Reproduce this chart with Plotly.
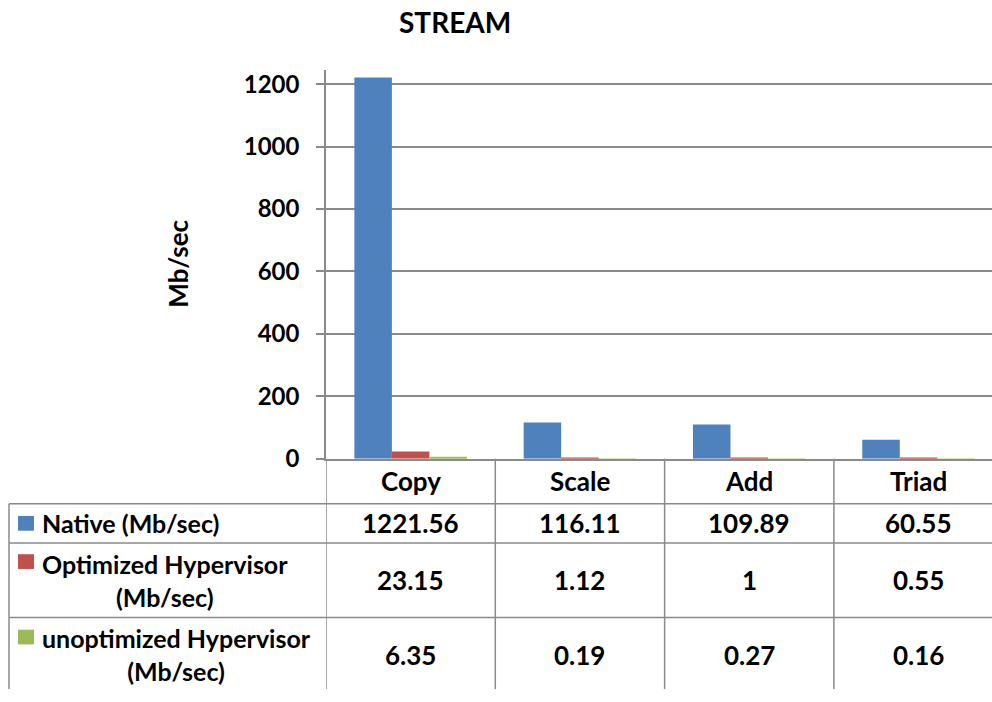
import plotly.graph_objects as go

# STREAM benchmark results
categories = ["Copy", "Scale", "Add", "Triad"]
series_names = [
    "Native (Mb/sec)",
    "Optimized Hypervisor (Mb/sec)",
    "unoptimized Hypervisor (Mb/sec)",
]
series_labels = [
    "Native (Mb/sec)",
    "Optimized Hypervisor<br>(Mb/sec)",
    "unoptimized Hypervisor<br>(Mb/sec)",
]
native = [1221.56, 116.11, 109.89, 60.55]
optimized = [23.15, 1.12, 1, 0.55]
unoptimized = [6.35, 0.19, 0.27, 0.16]
y_ticks = [0, 200, 400, 600, 800, 1000, 1200]

series_values = [native, optimized, unoptimized]
colors = ["#4F81BD", "#C0504D", "#9BBB59"]

W, H = 992, 702
FONT = "Lato"
GRID = "#8a8a8a"


def px_x(x):
    return x / W


def px_y(y):
    return 1 - y / H


fig = go.Figure()
for name, vals, col in zip(series_names, series_values, colors):
    fig.add_trace(go.Bar(x=categories, y=vals, name=name, marker_color=col,
                         marker_line_width=0))

# plot area in pixels
plot_left, plot_bottom, plot_top = 326, 467, 70
cat_w = 169.3
x_max = -0.5 + (W - plot_left) / cat_w

fig.update_layout(
    width=W, height=H,
    margin=dict(l=0, r=0, t=0, b=0),
    paper_bgcolor="white", plot_bgcolor="white",
    showlegend=False,
    barmode="group", bargap=0.335, bargroupgap=0,
    font=dict(family=FONT, size=26, color="black", weight="bold"),
    xaxis=dict(domain=[px_x(plot_left), 1], range=[-0.5, x_max],
               showticklabels=False, ticks="", showgrid=False,
               showline=True, linecolor=GRID, linewidth=1.5, zeroline=False),
    yaxis=dict(domain=[px_y(plot_bottom), px_y(plot_top)], range=[0, 1247],
               tickvals=y_ticks, ticks="outside", ticklen=8, tickcolor=GRID,
               tickwidth=1.5, ticklabelstandoff=12,
               tickfont=dict(family=FONT, size=24, weight="bold"),
               showgrid=True, gridcolor=GRID, gridwidth=1.5,
               showline=True, linecolor=GRID, linewidth=1.5, zeroline=False),
)

annotations = []
shapes = []

# title and y axis label
annotations.append(dict(text="STREAM", x=px_x(455), y=px_y(21), xref="paper", yref="paper",
                        showarrow=False, xanchor="center", yanchor="middle",
                        font=dict(family=FONT, size=28, weight="bold")))
annotations.append(dict(text="Mb/sec", x=px_x(178), y=px_y(268), xref="paper", yref="paper",
                        showarrow=False, textangle=-90, xanchor="center", yanchor="middle",
                        font=dict(family=FONT, size=26, weight="bold")))

# data table grid
row_lines = [513, 553, 629]
table_left = 9
for y in row_lines:
    shapes.append(dict(type="line", xref="paper", yref="paper",
                       x0=px_x(table_left), x1=1, y0=px_y(y), y1=px_y(y),
                       line=dict(color=GRID, width=1.5)))
shapes.append(dict(type="line", xref="paper", yref="paper",
                   x0=px_x(table_left), x1=px_x(table_left), y0=px_y(row_lines[0]), y1=0,
                   line=dict(color=GRID, width=1.5)))
for i in range(len(categories)):
    shapes.append(dict(type="line", xref="x", yref="paper",
                       x0=i - 0.5, x1=i - 0.5, y0=px_y(plot_bottom), y1=0,
                       line=dict(color=GRID, width=1.5)))

# header row: category names
for c in categories:
    annotations.append(dict(text=c, x=c, y=px_y(490), xref="x", yref="paper",
                            showarrow=False, xanchor="center", yanchor="middle"))

# value rows with legend keys
row_centers = [533, 591, 667]
key_centers = [533, 572, 649]
for label, vals, col, yc, kc in zip(series_labels, series_values, colors, row_centers, key_centers):
    for c, v in zip(categories, vals):
        annotations.append(dict(text=f"{v:g}", x=c, y=px_y(yc), xref="x", yref="paper",
                                showarrow=False, xanchor="center", yanchor="middle"))
    shapes.append(dict(type="rect", xref="paper", yref="paper",
                       x0=px_x(18), x1=px_x(34), y0=px_y(kc - 7.5), y1=px_y(kc + 7.5),
                       fillcolor=col, line=dict(width=0)))
    annotations.append(dict(text=label, x=px_x(40), y=px_y(yc), xref="paper", yref="paper",
                            showarrow=False, xanchor="left", yanchor="middle", align="center",
                            font=dict(family=FONT, size=25, weight="bold")))

fig.update_layout(annotations=annotations, shapes=shapes)
# page without body margin so the figure fills the window exactly
fig.write_html("out.html", post_script="document.body.style.margin='0';")
